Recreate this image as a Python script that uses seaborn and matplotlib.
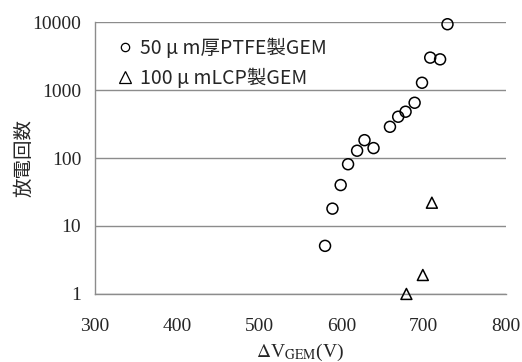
import matplotlib
matplotlib.use("Agg")
import matplotlib.pyplot as plt
import seaborn as sns
import pandas as pd

# 50um PTFE GEM (circles)
ptfe_v = [580, 589, 599, 608, 619, 628, 639, 659, 669, 678, 689, 698, 708, 720, 729]
ptfe_n = [5.1, 18, 40, 81, 128, 183, 140, 288, 405, 480, 650, 1280, 3000, 2830, 9300]

# 100um LCP GEM (triangles)
lcp_v = [679, 699, 710]
lcp_n = [1.0, 1.9, 22]

y_ticks = [1, 10, 100, 1000, 10000]
x_ticks = [300, 400, 500, 600, 700, 800]

label_ptfe = "50 \u03bc m厚PTFE製GEM"
label_lcp = "100 \u03bc mLCP製GEM"

df = pd.DataFrame({
    "v": ptfe_v + lcp_v,
    "n": ptfe_n + lcp_n,
    "gem": [label_ptfe] * len(ptfe_v) + [label_lcp] * len(lcp_v),
})

sns.set_style("white")
plt.rcParams["font.family"] = ["Liberation Serif", "DejaVu Serif"]
plt.rcParams["mathtext.fontset"] = "stix"

fig = plt.figure(figsize=(5.22, 3.62), dpi=100)
ax = fig.add_axes([0.182, 0.188, 0.787, 0.751])

sns.scatterplot(data=df, x="v", y="n", style="gem",
                markers={label_ptfe: "o", label_lcp: "^"},
                facecolor="none", edgecolor="black", linewidth=1.1,
                s=62, ax=ax, legend=False, clip_on=False, zorder=3)

ax.set_yscale("log")
ax.set_ylim(1, 10000)
ax.set_xlim(300, 800)
ax.set_yticks(y_ticks)
ax.set_yticklabels([str(t) for t in y_ticks])
ax.minorticks_off()
ax.set_xticks(x_ticks)
ax.tick_params(axis="both", labelsize=14, direction="out", length=5,
               color="#8c8c8c", width=1)
ax.tick_params(axis="y", pad=5)
ax.tick_params(axis="x", pad=12)
ax.yaxis.grid(True, color="#8c8c8c", linewidth=1)
ax.set_axisbelow(True)
for side in ["top", "right"]:
    ax.spines[side].set_visible(False)
for side in ["left", "bottom"]:
    ax.spines[side].set_color("#8c8c8c")
    ax.spines[side].set_linewidth(1)

ax.set_xlabel(r"$\Delta$V$_{\mathrm{GEM}}$(V)", fontsize=14, labelpad=5)
ax.set_ylabel("放電回数", fontsize=14, family=["Noto Sans CJK JP"])
ax.yaxis.set_label_coords(-0.148, 0.5)

# legend rows with open symbols
handles = [
    plt.Line2D([], [], marker="o", linestyle="none", markerfacecolor="none",
               markeredgecolor="black", markersize=6, markeredgewidth=0.9),
    plt.Line2D([], [], marker="^", linestyle="none", markerfacecolor="none",
               markeredgecolor="black", markersize=8, markeredgewidth=0.9),
]
leg = ax.legend(handles, [label_ptfe, label_lcp], loc="upper left",
                bbox_to_anchor=(0.011, 1.006), frameon=False,
                handlelength=0.8, handletextpad=0.4, labelspacing=0.45,
                prop={"family": ["Noto Sans CJK JP"], "size": 14})

fig.savefig("out.png", dpi=100)
